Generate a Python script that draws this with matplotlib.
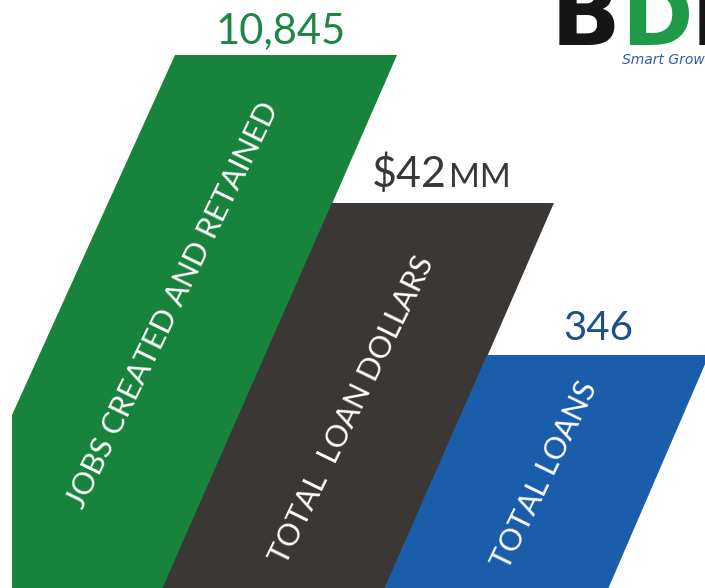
import matplotlib.pyplot as plt
from matplotlib.patches import Polygon

# chart data
categories = ["JOBS CREATED AND RETAINED", "TOTAL  LOAN DOLLARS", "TOTAL LOANS"]
value_main = ["10,845", "$42", "346"]
value_suffix = ["", "MM", ""]
bar_colors = ["#17833d", "#3b3735", "#1a5dab"]
value_colors = ["#1f8543", "#3b3735", "#1d4f8c"]

# layout (pixel space, y grows downward)
W, H = 705, 588
tops = [55, 203, 355]
bar_w = 222
slope = 0.44          # horizontal shift per pixel going down
label_xy = [(173, 305), (352, 410), (545, 475)]
label_rot = 64

# each bar starts where the previous bar's right edge crosses its top
lefts = [175]
for i in range(1, len(tops)):
    lefts.append(lefts[i - 1] + bar_w - slope * (tops[i] - tops[i - 1]))

fig = plt.figure(figsize=(W / 100, H / 100), dpi=100)
ax = fig.add_axes([0, 0, 1, 1])
ax.set_xlim(0, W)
ax.set_ylim(H, 0)
ax.axis("off")

for i, cat in enumerate(categories):
    top, left = tops[i], lefts[i]
    drop = H - top
    right_bot = left + bar_w - slope * drop + 2
    if i == 0:
        # first bar runs into the left edge and then goes straight down
        pts = [(left, top), (left + bar_w, top), (right_bot, H), (12, H), (12, 415)]
    else:
        pts = [(left, top), (left + bar_w, top), (right_bot, H), (left - slope * drop, H)]
    ax.add_patch(Polygon(pts, closed=True, facecolor=bar_colors[i],
                         edgecolor="none", zorder=i + 1))
    ax.text(label_xy[i][0], label_xy[i][1], cat, rotation=label_rot,
            rotation_mode="anchor", ha="center", va="center",
            color="white", fontsize=22, family="Lato", zorder=10)

# value labels above the bars
ax.text(281, 43, value_main[0], ha="center", va="baseline",
        color=value_colors[0], fontsize=30, family="Lato")
ax.text(372, 187, value_main[1], ha="left", va="baseline",
        color=value_colors[1], fontsize=31, family="Lato")
ax.text(449, 187, value_suffix[1], ha="left", va="baseline",
        color=value_colors[1], fontsize=24, family="Lato")
ax.text(598, 340, value_main[2], ha="center", va="baseline",
        color=value_colors[2], fontsize=29, family="Lato")

# logo in the corner
ax.text(551, 45, "B", ha="left", va="baseline", color="#161616",
        fontsize=66, fontweight="heavy", family="DejaVu Sans")
ax.text(621, 45, "D", ha="left", va="baseline", color="#1f9a48",
        fontsize=62, fontweight="heavy", family="DejaVu Sans")
ax.text(691, 45, "I", ha="left", va="baseline", color="#161616",
        fontsize=66, fontweight="heavy", family="DejaVu Sans")
ax.text(622, 64, "Smart Growth", ha="left", va="baseline", color="#2d5fa6",
        fontsize=10, style="italic", family="DejaVu Sans")

fig.savefig("out.png", dpi=100)
